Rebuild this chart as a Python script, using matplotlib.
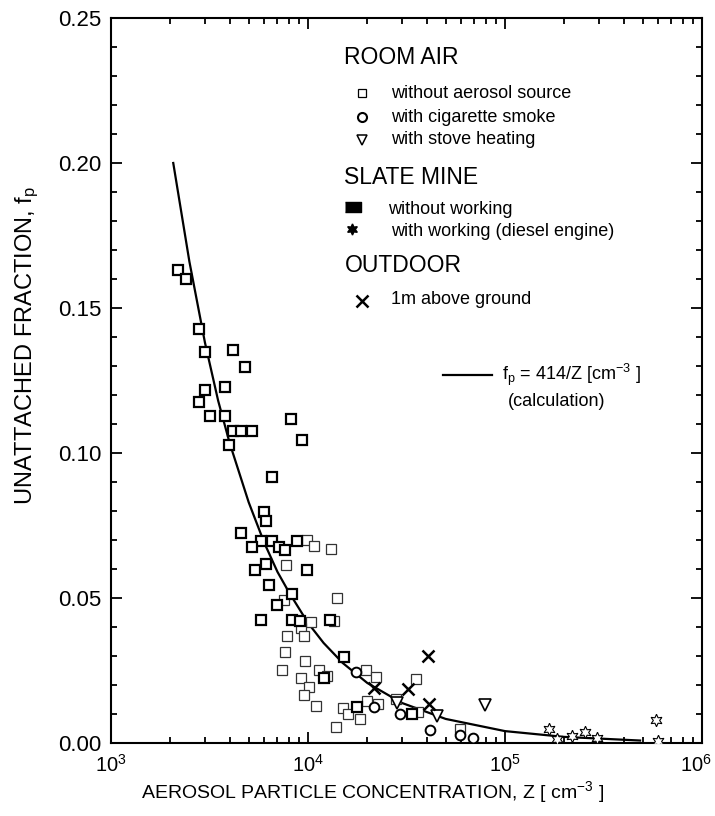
import matplotlib
matplotlib.use("Agg")
import matplotlib.pyplot as plt
import matplotlib.transforms as mtransforms
from matplotlib.ticker import MultipleLocator, FormatStrFormatter, LogLocator

plt.rcParams['font.family'] = ['Liberation Sans', 'DejaVu Sans']
plt.rcParams['mathtext.default'] = 'regular'

# Room air, without aerosol source (thin squares)
room_z = [7730, 9880, 10730, 13090, 7580, 13990, 10320, 13600, 9220, 7830,
          9580, 7620, 9620, 7350, 11370, 19630, 9220, 22070, 10120, 9510,
          10940, 15060, 19930, 22670, 15960, 18430, 13870, 27970, 35220,
          36060, 59100, 12490]
room_f = [0.0615, 0.0700, 0.0679, 0.0668, 0.0494, 0.0501, 0.0416, 0.0422,
          0.0396, 0.0370, 0.0370, 0.0313, 0.0283, 0.0251, 0.0252, 0.0251,
          0.0224, 0.0229, 0.0192, 0.0164, 0.0128, 0.0122, 0.0144, 0.0134,
          0.0101, 0.0083, 0.0055, 0.0153, 0.0220, 0.0108, 0.0047, 0.0231]

# Room air, with cigarette smoke
smoke_z = [17590, 21560, 29410, 41630, 59100, 68550]
smoke_f = [0.0245, 0.0124, 0.0099, 0.0045, 0.0026, 0.0016]

# Room air, with stove heating
stove_z = [28200, 45320, 79150]
stove_f = [0.0138, 0.0093, 0.0131]

# Slate mine, without working (bold squares)
mine_z = [2200, 2400, 2800, 3000, 4180, 4790, 3000, 2790, 3800, 3180,
          3800, 4180, 4570, 5180, 8170, 9360, 3970, 6570, 5980, 6140,
          4590, 5770, 6540, 5180, 7150, 7620, 8760, 6140, 5380, 9920,
          6340, 8330, 6940, 5750, 8330, 9140, 12930, 15290, 12020, 17800,
          33600]
mine_f = [0.1631, 0.1600, 0.1427, 0.1347, 0.1356, 0.1297, 0.1216, 0.1176,
          0.1227, 0.1127, 0.1127, 0.1076, 0.1076, 0.1076, 0.1116, 0.1046,
          0.1028, 0.0916, 0.0796, 0.0766, 0.0725, 0.0696, 0.0696, 0.0677,
          0.0677, 0.0666, 0.0696, 0.0617, 0.0596, 0.0596, 0.0546, 0.0515,
          0.0477, 0.0425, 0.0425, 0.0420, 0.0425, 0.0296, 0.0224, 0.0125,
          0.0099]

# Slate mine, with working (diesel engine)
diesel_z = [166600, 183000, 219600, 254700, 292100, 582100, 595700]
diesel_f = [0.0048, 0.0013, 0.0025, 0.0037, 0.0018, 0.0079, 0.0008]

# Outdoor, 1 m above ground
out_z = [21630, 32000, 40810, 40900]
out_f = [0.0191, 0.0185, 0.0299, 0.0133]

# Calculated curve f_p = 414/Z
curve_z = [2070, 2500, 3000, 3500, 4000, 5000, 6000, 7000, 8000, 10000,
           12000, 15000, 20000, 30000, 50000, 100000, 200000, 485000]
curve_f = [0.200, 0.166, 0.138, 0.118, 0.1035, 0.083, 0.069, 0.059, 0.052,
           0.0414, 0.0345, 0.0276, 0.0207, 0.0138, 0.0083, 0.0041, 0.0021,
           0.00085]

W, H = 715, 816
fig = plt.figure(figsize=(W / 100, H / 100), dpi=100)
ax = fig.add_axes([111 / W, 1 - 743 / H, 591 / W, 725 / H])

star6 = (6, 1, 0)

ax.plot(curve_z, curve_f, color='black', lw=1.6, zorder=2)
ax.plot(room_z, room_f, ls='none', marker='s', ms=6.5, mfc='white',
        mec='#333333', mew=0.9, zorder=3)
ax.plot(mine_z, mine_f, ls='none', marker='s', ms=6.5, mfc='white',
        mec='black', mew=1.6, zorder=3)
ax.plot(smoke_z, smoke_f, ls='none', marker='o', ms=7, mfc='white',
        mec='black', mew=1.4, zorder=4)
ax.plot(stove_z, stove_f, ls='none', marker='v', ms=8, mfc='white',
        mec='black', mew=1.2, zorder=4)
ax.plot(out_z, out_f, ls='none', marker='x', ms=9, mec='black',
        mew=1.8, zorder=5)
ax.plot(diesel_z, diesel_f, ls='none', marker=star6, ms=9, mfc='white',
        mec='black', mew=0.8, zorder=4)

ax.set_xscale('log')
ax.set_xlim(1e3, 1e6)
ax.set_ylim(0, 0.25)
ax.set_xticks([1e3, 1e4, 1e5, 1e6])
ax.xaxis.set_minor_locator(LogLocator(base=10, subs=range(2, 10), numticks=100))
ax.yaxis.set_major_locator(MultipleLocator(0.05))
ax.yaxis.set_minor_locator(MultipleLocator(0.01))
ax.yaxis.set_major_formatter(FormatStrFormatter('%.2f'))

ax.tick_params(which='both', direction='in', top=True, right=True, width=1.3)
ax.tick_params(which='major', length=8)
ax.tick_params(which='minor', length=4.5)
ax.tick_params(axis='x', labelsize=14.5, pad=8)
ax.tick_params(axis='y', labelsize=16, pad=7)
for s in ax.spines.values():
    s.set_linewidth(1.5)

# keep the 10^6 label inside the figure
last = ax.xaxis.get_major_ticks()[-1].label1
last.set_transform(last.get_transform() +
                   mtransforms.ScaledTranslation(-6 / 100, 0, fig.dpi_scale_trans))

def fx(px):
    return px / W

def fy(py):
    return 1 - py / H

fig.text(fx(373), fy(792), 'AEROSOL PARTICLE CONCENTRATION, Z [ cm$^{-3}$ ]',
         fontsize=14, ha='center', va='center')
fig.text(fx(27), fy(345), 'UNATTACHED FRACTION, f$_p$', fontsize=17,
         rotation=90, ha='center', va='center')

# Legend drawn by hand
head = dict(fontsize=16.5, va='center', ha='left')
item = dict(fontsize=13, va='center', ha='left')

fig.text(fx(344), fy(57), 'ROOM AIR', **head)
fig.text(fx(391), fy(93), 'without aerosol source', **item)
fig.text(fx(391), fy(117), 'with cigarette smoke', **item)
fig.text(fx(391), fy(140), 'with stove heating', **item)
fig.text(fx(344), fy(177), 'SLATE MINE', **head)
fig.text(fx(388), fy(209), 'without working', **item)
fig.text(fx(391), fy(232), 'with working (diesel engine)', **item)
fig.text(fx(345), fy(266), 'OUTDOOR', **head)
fig.text(fx(391), fy(300), '1m above ground', **item)
fig.text(fx(502), fy(375), 'f$_p$ = 414/Z [cm$^{-3}$ ]', **item)
fig.text(fx(508), fy(402), '(calculation)', **item)

tf = fig.transFigure
ax.plot([fx(362)], [fy(93)], marker='s', ms=5.5, mfc='white', mec='black',
        mew=0.9, transform=tf, clip_on=False)
ax.plot([fx(362)], [fy(117)], marker='o', ms=6.5, mfc='white', mec='black',
        mew=1.5, transform=tf, clip_on=False)
ax.plot([fx(362)], [fy(140)], marker='v', ms=7.5, mfc='white', mec='black',
        mew=1.1, transform=tf, clip_on=False)
rect = [(-1, -0.55), (1, -0.55), (1, 0.55), (-1, 0.55)]
ax.plot([fx(353)], [fy(207)], marker=rect, ms=12, mfc='black', mec='black',
        transform=tf, clip_on=False)
ax.plot([fx(352)], [fy(229)], marker=star6, ms=8, mfc='black', mec='black',
        transform=tf, clip_on=False)
ax.plot([fx(362)], [fy(301)], marker='x', ms=8, mec='black', mew=1.8,
        transform=tf, clip_on=False)
ax.plot([fx(443), fx(492)], [fy(375), fy(375)], color='black', lw=1.6,
        transform=tf, clip_on=False)

fig.savefig('out.png', dpi=100)
